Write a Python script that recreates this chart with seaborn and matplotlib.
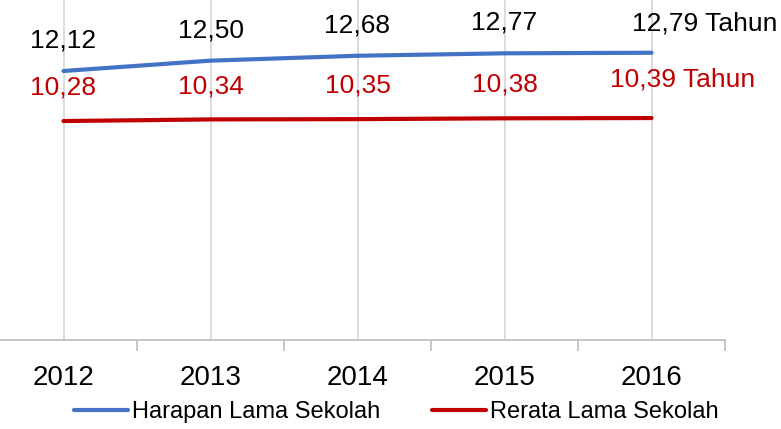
import pandas as pd
import seaborn as sns
import matplotlib.pyplot as plt

years = ['2012', '2013', '2014', '2015', '2016']
harapan = [12.12, 12.50, 12.68, 12.77, 12.79]
rerata = [10.28, 10.34, 10.35, 10.38, 10.39]
series_names = ['Harapan Lama Sekolah', 'Rerata Lama Sekolah']
colors = ['#4472C4', '#C00000']

df = pd.DataFrame({
    'idx': list(range(len(years))) * 2,
    'nilai': harapan + rerata,
    'seri': [series_names[0]] * len(years) + [series_names[1]] * len(years),
})

sns.set_style('white')
plt.rcParams['font.family'] = ['Liberation Sans', 'DejaVu Sans']

fig = plt.figure(figsize=(7.81, 4.29), dpi=100)
ax = fig.add_axes([-10 / 781, 89 / 429, 735 / 781, 340 / 429])

sns.lineplot(data=df, x='idx', y='nilai', hue='seri', palette=colors,
             linewidth=3, ax=ax, zorder=3)

ax.set_xlim(-0.5, 4.5)
ax.set_ylim(2.23, 14.73)
ax.set_xticks(range(len(years)))
ax.set_xticklabels(years, fontsize=20, color='black')
ax.set_xticks([i - 0.5 for i in range(len(years) + 1)], minor=True)
ax.tick_params(axis='x', which='major', length=0, pad=18, bottom=False)
ax.tick_params(axis='x', which='minor', length=8, width=1.2, color='#BFBFBF',
               direction='out', bottom=True)
ax.set_yticks([])
ax.set_xlabel('')
ax.set_ylabel('')
ax.grid(axis='x', which='major', color='#D9D9D9', linewidth=1.3)
for s in ['top', 'right', 'left']:
    ax.spines[s].set_visible(False)
ax.spines['bottom'].set_color('#BFBFBF')
ax.spines['bottom'].set_linewidth(1.3)

# label nilai
fs = 19
for i, v in enumerate(harapan):
    txt = f'{v:.2f}'.replace('.', ',')
    if i == len(harapan) - 1:
        ax.annotate(txt + ' Tahun', (i, v), xytext=(-14, 21), textcoords='offset points',
                    ha='left', va='center', fontsize=fs, color='black')
    else:
        ax.annotate(txt, (i, v), xytext=(0, 22), textcoords='offset points',
                    ha='center', va='center', fontsize=fs, color='black')
for i, v in enumerate(rerata):
    txt = f'{v:.2f}'.replace('.', ',')
    if i == len(rerata) - 1:
        ax.annotate(txt + ' Tahun', (i, v), xytext=(-30, 28), textcoords='offset points',
                    ha='left', va='center', fontsize=fs, color=colors[1])
    else:
        ax.annotate(txt, (i, v), xytext=(0, 24), textcoords='offset points',
                    ha='center', va='center', fontsize=fs, color=colors[1])

handles, labels = ax.get_legend_handles_labels()
ax.legend_.remove()
fig.legend(handles, labels, loc='center', bbox_to_anchor=(396 / 781, 1 - 412 / 429),
           ncol=2, frameon=False, fontsize=17, handlelength=2.3, handletextpad=0.15,
           columnspacing=2.2, labelcolor='black')

fig.savefig('out.png', dpi=100)
